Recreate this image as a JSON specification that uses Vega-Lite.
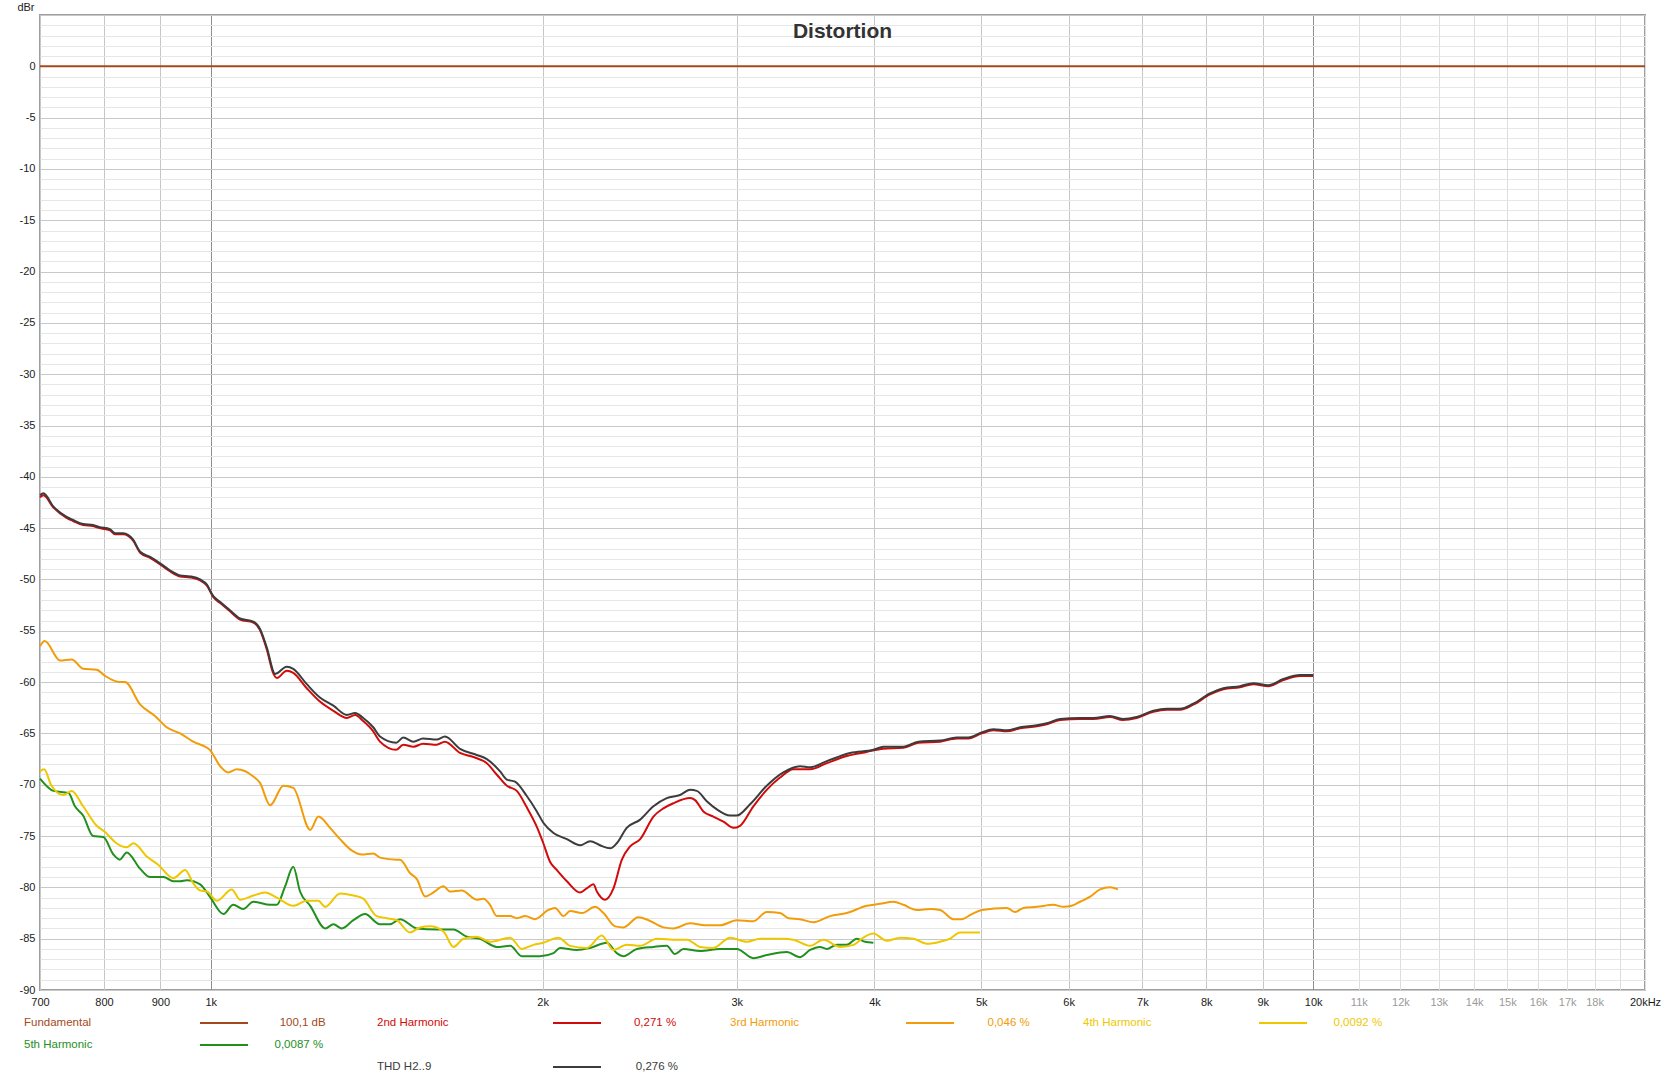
{
  "$schema": "https://vega.github.io/schema/vega-lite/v6.json",
  "autosize": {"type": "none"},
  "padding": {"left": 40, "top": 15, "right": 20, "bottom": 90},
  "width": 1605,
  "height": 975,
  "background": "#ffffff",
  "title": {"text": "Distortion", "fontSize": 21, "fontWeight": "bold", "color": "#333333", "font": "Liberation Sans", "anchor": "middle", "frame": "group", "offset": -41},
  "config": {
    "view": {"stroke": "#9e9e9e", "strokeWidth": 2},
    "font": "Liberation Sans"
  },
  "data": {"values": [
    {"s":"Fundamental","f":700,"db":0},{"s":"Fundamental","f":20000,"db":0},
    {"s":"5th Harmonic","f":700,"db":-69.4},{"s":"5th Harmonic","f":720,"db":-70.6},{"s":"5th Harmonic","f":743,"db":-70.8},{"s":"5th Harmonic","f":753,"db":-72.1},{"s":"5th Harmonic","f":766,"db":-73.0},{"s":"5th Harmonic","f":782,"db":-75.0},{"s":"5th Harmonic","f":799,"db":-75.1},{"s":"5th Harmonic","f":816,"db":-76.8},{"s":"5th Harmonic","f":827,"db":-77.3},{"s":"5th Harmonic","f":839,"db":-76.6},{"s":"5th Harmonic","f":863,"db":-78.2},{"s":"5th Harmonic","f":881,"db":-79.0},{"s":"5th Harmonic","f":906,"db":-79.0},{"s":"5th Harmonic","f":925,"db":-79.4},{"s":"5th Harmonic","f":938,"db":-79.4},{"s":"5th Harmonic","f":951,"db":-79.3},{"s":"5th Harmonic","f":978,"db":-79.7},{"s":"5th Harmonic","f":998,"db":-80.9},{"s":"5th Harmonic","f":1027,"db":-82.6},{"s":"5th Harmonic","f":1048,"db":-81.7},{"s":"5th Harmonic","f":1070,"db":-82.1},{"s":"5th Harmonic","f":1093,"db":-81.4},{"s":"5th Harmonic","f":1132,"db":-81.7},{"s":"5th Harmonic","f":1148,"db":-81.7},{"s":"5th Harmonic","f":1168,"db":-79.9},{"s":"5th Harmonic","f":1188,"db":-78.0},{"s":"5th Harmonic","f":1205,"db":-80.4},{"s":"5th Harmonic","f":1231,"db":-81.8},{"s":"5th Harmonic","f":1270,"db":-84.0},{"s":"5th Harmonic","f":1292,"db":-83.6},{"s":"5th Harmonic","f":1315,"db":-84.0},{"s":"5th Harmonic","f":1347,"db":-83.2},{"s":"5th Harmonic","f":1380,"db":-82.6},{"s":"5th Harmonic","f":1424,"db":-83.6},{"s":"5th Harmonic","f":1454,"db":-83.6},{"s":"5th Harmonic","f":1485,"db":-83.1},{"s":"5th Harmonic","f":1538,"db":-84.0},{"s":"5th Harmonic","f":1603,"db":-84.1},{"s":"5th Harmonic","f":1660,"db":-84.1},{"s":"5th Harmonic","f":1707,"db":-84.8},{"s":"5th Harmonic","f":1755,"db":-85.0},{"s":"5th Harmonic","f":1817,"db":-85.8},{"s":"5th Harmonic","f":1869,"db":-85.7},{"s":"5th Harmonic","f":1915,"db":-86.7},{"s":"5th Harmonic","f":1989,"db":-86.7},{"s":"5th Harmonic","f":2046,"db":-86.4},{"s":"5th Harmonic","f":2074,"db":-85.9},{"s":"5th Harmonic","f":2148,"db":-86.1},{"s":"5th Harmonic","f":2209,"db":-85.9},{"s":"5th Harmonic","f":2287,"db":-85.4},{"s":"5th Harmonic","f":2335,"db":-86.4},{"s":"5th Harmonic","f":2368,"db":-86.7},{"s":"5th Harmonic","f":2435,"db":-86.0},{"s":"5th Harmonic","f":2521,"db":-85.8},{"s":"5th Harmonic","f":2592,"db":-85.7},{"s":"5th Harmonic","f":2637,"db":-86.5},{"s":"5th Harmonic","f":2684,"db":-86.0},{"s":"5th Harmonic","f":2779,"db":-86.2},{"s":"5th Harmonic","f":2898,"db":-86.0},{"s":"5th Harmonic","f":3000,"db":-86.0},{"s":"5th Harmonic","f":3106,"db":-86.9},{"s":"5th Harmonic","f":3194,"db":-86.6},{"s":"5th Harmonic","f":3331,"db":-86.3},{"s":"5th Harmonic","f":3424,"db":-86.8},{"s":"5th Harmonic","f":3497,"db":-86.1},{"s":"5th Harmonic","f":3570,"db":-85.8},{"s":"5th Harmonic","f":3621,"db":-86.0},{"s":"5th Harmonic","f":3697,"db":-85.6},{"s":"5th Harmonic","f":3775,"db":-85.6},{"s":"5th Harmonic","f":3855,"db":-85.0},{"s":"5th Harmonic","f":3922,"db":-85.3},{"s":"5th Harmonic","f":3991,"db":-85.4},
    {"s":"4th Harmonic","f":700,"db":-68.7},{"s":"4th Harmonic","f":706,"db":-68.5},{"s":"4th Harmonic","f":717,"db":-70.1},{"s":"4th Harmonic","f":735,"db":-71.0},{"s":"4th Harmonic","f":748,"db":-70.6},{"s":"4th Harmonic","f":766,"db":-72.1},{"s":"4th Harmonic","f":788,"db":-74.0},{"s":"4th Harmonic","f":802,"db":-74.6},{"s":"4th Harmonic","f":819,"db":-75.6},{"s":"4th Harmonic","f":839,"db":-76.1},{"s":"4th Harmonic","f":851,"db":-75.7},{"s":"4th Harmonic","f":875,"db":-77.0},{"s":"4th Harmonic","f":896,"db":-77.8},{"s":"4th Harmonic","f":925,"db":-79.1},{"s":"4th Harmonic","f":948,"db":-78.3},{"s":"4th Harmonic","f":964,"db":-79.6},{"s":"4th Harmonic","f":978,"db":-80.3},{"s":"4th Harmonic","f":992,"db":-80.4},{"s":"4th Harmonic","f":1013,"db":-81.3},{"s":"4th Harmonic","f":1045,"db":-80.2},{"s":"4th Harmonic","f":1063,"db":-81.2},{"s":"4th Harmonic","f":1093,"db":-80.8},{"s":"4th Harmonic","f":1120,"db":-80.5},{"s":"4th Harmonic","f":1148,"db":-81.0},{"s":"4th Harmonic","f":1188,"db":-81.8},{"s":"4th Harmonic","f":1222,"db":-81.3},{"s":"4th Harmonic","f":1252,"db":-81.3},{"s":"4th Harmonic","f":1270,"db":-81.9},{"s":"4th Harmonic","f":1310,"db":-80.6},{"s":"4th Harmonic","f":1347,"db":-80.8},{"s":"4th Harmonic","f":1375,"db":-81.1},{"s":"4th Harmonic","f":1414,"db":-82.8},{"s":"4th Harmonic","f":1444,"db":-83.0},{"s":"4th Harmonic","f":1475,"db":-83.2},{"s":"4th Harmonic","f":1516,"db":-84.4},{"s":"4th Harmonic","f":1548,"db":-83.9},{"s":"4th Harmonic","f":1581,"db":-83.8},{"s":"4th Harmonic","f":1626,"db":-84.3},{"s":"4th Harmonic","f":1660,"db":-85.8},{"s":"4th Harmonic","f":1695,"db":-85.0},{"s":"4th Harmonic","f":1743,"db":-84.8},{"s":"4th Harmonic","f":1792,"db":-85.3},{"s":"4th Harmonic","f":1869,"db":-84.9},{"s":"4th Harmonic","f":1915,"db":-86.0},{"s":"4th Harmonic","f":1962,"db":-85.6},{"s":"4th Harmonic","f":2003,"db":-85.4},{"s":"4th Harmonic","f":2067,"db":-84.9},{"s":"4th Harmonic","f":2118,"db":-85.7},{"s":"4th Harmonic","f":2193,"db":-85.9},{"s":"4th Harmonic","f":2263,"db":-84.7},{"s":"4th Harmonic","f":2319,"db":-86.1},{"s":"4th Harmonic","f":2384,"db":-85.6},{"s":"4th Harmonic","f":2452,"db":-85.7},{"s":"4th Harmonic","f":2539,"db":-85.0},{"s":"4th Harmonic","f":2647,"db":-85.1},{"s":"4th Harmonic","f":2703,"db":-85.1},{"s":"4th Harmonic","f":2779,"db":-85.8},{"s":"4th Harmonic","f":2857,"db":-85.9},{"s":"4th Harmonic","f":2959,"db":-84.9},{"s":"4th Harmonic","f":3064,"db":-85.3},{"s":"4th Harmonic","f":3150,"db":-85.0},{"s":"4th Harmonic","f":3307,"db":-85.0},{"s":"4th Harmonic","f":3377,"db":-85.1},{"s":"4th Harmonic","f":3497,"db":-85.7},{"s":"4th Harmonic","f":3595,"db":-85.1},{"s":"4th Harmonic","f":3723,"db":-85.8},{"s":"4th Harmonic","f":3828,"db":-85.6},{"s":"4th Harmonic","f":3908,"db":-84.9},{"s":"4th Harmonic","f":3991,"db":-84.5},{"s":"4th Harmonic","f":4104,"db":-85.2},{"s":"4th Harmonic","f":4220,"db":-84.9},{"s":"4th Harmonic","f":4339,"db":-85.0},{"s":"4th Harmonic","f":4462,"db":-85.5},{"s":"4th Harmonic","f":4588,"db":-85.3},{"s":"4th Harmonic","f":4684,"db":-85.0},{"s":"4th Harmonic","f":4783,"db":-84.4},{"s":"4th Harmonic","f":4884,"db":-84.4},{"s":"4th Harmonic","f":4987,"db":-84.4},
    {"s":"3rd Harmonic","f":700,"db":-56.5},{"s":"3rd Harmonic","f":707,"db":-56.0},{"s":"3rd Harmonic","f":730,"db":-57.9},{"s":"3rd Harmonic","f":748,"db":-57.8},{"s":"3rd Harmonic","f":766,"db":-58.7},{"s":"3rd Harmonic","f":788,"db":-58.8},{"s":"3rd Harmonic","f":802,"db":-59.4},{"s":"3rd Harmonic","f":827,"db":-60.0},{"s":"3rd Harmonic","f":836,"db":-60.0},{"s":"3rd Harmonic","f":863,"db":-62.2},{"s":"3rd Harmonic","f":890,"db":-63.3},{"s":"3rd Harmonic","f":912,"db":-64.4},{"s":"3rd Harmonic","f":938,"db":-65.0},{"s":"3rd Harmonic","f":964,"db":-65.8},{"s":"3rd Harmonic","f":998,"db":-66.6},{"s":"3rd Harmonic","f":1020,"db":-68.2},{"s":"3rd Harmonic","f":1037,"db":-68.8},{"s":"3rd Harmonic","f":1056,"db":-68.5},{"s":"3rd Harmonic","f":1093,"db":-69.2},{"s":"3rd Harmonic","f":1108,"db":-69.8},{"s":"3rd Harmonic","f":1132,"db":-72.0},{"s":"3rd Harmonic","f":1164,"db":-70.1},{"s":"3rd Harmonic","f":1188,"db":-70.3},{"s":"3rd Harmonic","f":1231,"db":-74.4},{"s":"3rd Harmonic","f":1252,"db":-73.1},{"s":"3rd Harmonic","f":1283,"db":-74.2},{"s":"3rd Harmonic","f":1310,"db":-75.3},{"s":"3rd Harmonic","f":1342,"db":-76.4},{"s":"3rd Harmonic","f":1371,"db":-76.8},{"s":"3rd Harmonic","f":1404,"db":-76.7},{"s":"3rd Harmonic","f":1424,"db":-77.1},{"s":"3rd Harmonic","f":1475,"db":-77.3},{"s":"3rd Harmonic","f":1485,"db":-77.3},{"s":"3rd Harmonic","f":1516,"db":-78.6},{"s":"3rd Harmonic","f":1538,"db":-79.2},{"s":"3rd Harmonic","f":1565,"db":-80.9},{"s":"3rd Harmonic","f":1592,"db":-80.5},{"s":"3rd Harmonic","f":1626,"db":-79.9},{"s":"3rd Harmonic","f":1648,"db":-80.4},{"s":"3rd Harmonic","f":1689,"db":-80.3},{"s":"3rd Harmonic","f":1743,"db":-81.2},{"s":"3rd Harmonic","f":1767,"db":-81.1},{"s":"3rd Harmonic","f":1792,"db":-81.7},{"s":"3rd Harmonic","f":1817,"db":-82.8},{"s":"3rd Harmonic","f":1869,"db":-82.8},{"s":"3rd Harmonic","f":1895,"db":-83.0},{"s":"3rd Harmonic","f":1928,"db":-82.8},{"s":"3rd Harmonic","f":1969,"db":-83.1},{"s":"3rd Harmonic","f":2024,"db":-82.2},{"s":"3rd Harmonic","f":2053,"db":-82.0},{"s":"3rd Harmonic","f":2089,"db":-82.8},{"s":"3rd Harmonic","f":2118,"db":-82.3},{"s":"3rd Harmonic","f":2171,"db":-82.5},{"s":"3rd Harmonic","f":2232,"db":-81.9},{"s":"3rd Harmonic","f":2271,"db":-82.5},{"s":"3rd Harmonic","f":2327,"db":-83.8},{"s":"3rd Harmonic","f":2368,"db":-83.9},{"s":"3rd Harmonic","f":2443,"db":-82.9},{"s":"3rd Harmonic","f":2495,"db":-83.2},{"s":"3rd Harmonic","f":2574,"db":-83.9},{"s":"3rd Harmonic","f":2628,"db":-84.0},{"s":"3rd Harmonic","f":2721,"db":-83.5},{"s":"3rd Harmonic","f":2808,"db":-83.7},{"s":"3rd Harmonic","f":2898,"db":-83.7},{"s":"3rd Harmonic","f":3000,"db":-83.2},{"s":"3rd Harmonic","f":3106,"db":-83.3},{"s":"3rd Harmonic","f":3194,"db":-82.4},{"s":"3rd Harmonic","f":3284,"db":-82.5},{"s":"3rd Harmonic","f":3342,"db":-83.0},{"s":"3rd Harmonic","f":3424,"db":-83.1},{"s":"3rd Harmonic","f":3521,"db":-83.4},{"s":"3rd Harmonic","f":3646,"db":-82.8},{"s":"3rd Harmonic","f":3775,"db":-82.5},{"s":"3rd Harmonic","f":3936,"db":-81.8},{"s":"3rd Harmonic","f":4047,"db":-81.6},{"s":"3rd Harmonic","f":4161,"db":-81.4},{"s":"3rd Harmonic","f":4249,"db":-81.7},{"s":"3rd Harmonic","f":4370,"db":-82.2},{"s":"3rd Harmonic","f":4493,"db":-82.1},{"s":"3rd Harmonic","f":4588,"db":-82.2},{"s":"3rd Harmonic","f":4717,"db":-83.1},{"s":"3rd Harmonic","f":4800,"db":-83.1},{"s":"3rd Harmonic","f":4902,"db":-82.6},{"s":"3rd Harmonic","f":5005,"db":-82.2},{"s":"3rd Harmonic","f":5274,"db":-82.0},{"s":"3rd Harmonic","f":5366,"db":-82.4},{"s":"3rd Harmonic","f":5460,"db":-82.0},{"s":"3rd Harmonic","f":5615,"db":-81.9},{"s":"3rd Harmonic","f":5813,"db":-81.7},{"s":"3rd Harmonic","f":5935,"db":-81.9},{"s":"3rd Harmonic","f":6040,"db":-81.8},{"s":"3rd Harmonic","f":6146,"db":-81.4},{"s":"3rd Harmonic","f":6276,"db":-80.9},{"s":"3rd Harmonic","f":6408,"db":-80.2},{"s":"3rd Harmonic","f":6543,"db":-80.0},{"s":"3rd Harmonic","f":6651,"db":-80.2},
    {"s":"2nd Harmonic","f":700,"db":-42.0},{"s":"2nd Harmonic","f":705,"db":-41.8},{"s":"2nd Harmonic","f":720,"db":-43.0},{"s":"2nd Harmonic","f":740,"db":-44.0},{"s":"2nd Harmonic","f":750,"db":-44.3},{"s":"2nd Harmonic","f":766,"db":-44.7},{"s":"2nd Harmonic","f":782,"db":-44.8},{"s":"2nd Harmonic","f":793,"db":-45.0},{"s":"2nd Harmonic","f":810,"db":-45.2},{"s":"2nd Harmonic","f":819,"db":-45.6},{"s":"2nd Harmonic","f":833,"db":-45.6},{"s":"2nd Harmonic","f":850,"db":-46.2},{"s":"2nd Harmonic","f":863,"db":-47.4},{"s":"2nd Harmonic","f":881,"db":-47.9},{"s":"2nd Harmonic","f":899,"db":-48.5},{"s":"2nd Harmonic","f":918,"db":-49.2},{"s":"2nd Harmonic","f":938,"db":-49.7},{"s":"2nd Harmonic","f":958,"db":-49.8},{"s":"2nd Harmonic","f":978,"db":-50.1},{"s":"2nd Harmonic","f":992,"db":-50.6},{"s":"2nd Harmonic","f":1005,"db":-51.7},{"s":"2nd Harmonic","f":1020,"db":-52.3},{"s":"2nd Harmonic","f":1041,"db":-53.1},{"s":"2nd Harmonic","f":1063,"db":-53.9},{"s":"2nd Harmonic","f":1093,"db":-54.2},{"s":"2nd Harmonic","f":1108,"db":-54.9},{"s":"2nd Harmonic","f":1124,"db":-56.8},{"s":"2nd Harmonic","f":1140,"db":-59.2},{"s":"2nd Harmonic","f":1148,"db":-59.6},{"s":"2nd Harmonic","f":1172,"db":-58.9},{"s":"2nd Harmonic","f":1188,"db":-59.1},{"s":"2nd Harmonic","f":1222,"db":-60.6},{"s":"2nd Harmonic","f":1256,"db":-61.9},{"s":"2nd Harmonic","f":1292,"db":-62.8},{"s":"2nd Harmonic","f":1329,"db":-63.5},{"s":"2nd Harmonic","f":1352,"db":-63.2},{"s":"2nd Harmonic","f":1375,"db":-63.8},{"s":"2nd Harmonic","f":1404,"db":-64.8},{"s":"2nd Harmonic","f":1424,"db":-65.8},{"s":"2nd Harmonic","f":1473,"db":-66.6},{"s":"2nd Harmonic","f":1495,"db":-66.1},{"s":"2nd Harmonic","f":1527,"db":-66.3},{"s":"2nd Harmonic","f":1558,"db":-66.0},{"s":"2nd Harmonic","f":1603,"db":-66.1},{"s":"2nd Harmonic","f":1631,"db":-65.8},{"s":"2nd Harmonic","f":1683,"db":-66.9},{"s":"2nd Harmonic","f":1731,"db":-67.3},{"s":"2nd Harmonic","f":1780,"db":-67.9},{"s":"2nd Harmonic","f":1817,"db":-69.0},{"s":"2nd Harmonic","f":1856,"db":-70.1},{"s":"2nd Harmonic","f":1895,"db":-70.6},{"s":"2nd Harmonic","f":1935,"db":-72.2},{"s":"2nd Harmonic","f":1976,"db":-74.1},{"s":"2nd Harmonic","f":2003,"db":-75.7},{"s":"2nd Harmonic","f":2031,"db":-77.5},{"s":"2nd Harmonic","f":2060,"db":-78.3},{"s":"2nd Harmonic","f":2104,"db":-79.4},{"s":"2nd Harmonic","f":2163,"db":-80.5},{"s":"2nd Harmonic","f":2193,"db":-80.1},{"s":"2nd Harmonic","f":2224,"db":-79.7},{"s":"2nd Harmonic","f":2240,"db":-80.4},{"s":"2nd Harmonic","f":2279,"db":-81.2},{"s":"2nd Harmonic","f":2319,"db":-80.1},{"s":"2nd Harmonic","f":2360,"db":-77.3},{"s":"2nd Harmonic","f":2401,"db":-76.0},{"s":"2nd Harmonic","f":2452,"db":-75.3},{"s":"2nd Harmonic","f":2521,"db":-73.1},{"s":"2nd Harmonic","f":2574,"db":-72.3},{"s":"2nd Harmonic","f":2628,"db":-71.8},{"s":"2nd Harmonic","f":2721,"db":-71.3},{"s":"2nd Harmonic","f":2750,"db":-71.5},{"s":"2nd Harmonic","f":2798,"db":-72.6},{"s":"2nd Harmonic","f":2857,"db":-73.1},{"s":"2nd Harmonic","f":2918,"db":-73.6},{"s":"2nd Harmonic","f":2979,"db":-74.2},{"s":"2nd Harmonic","f":3021,"db":-74.0},{"s":"2nd Harmonic","f":3106,"db":-72.1},{"s":"2nd Harmonic","f":3194,"db":-70.5},{"s":"2nd Harmonic","f":3284,"db":-69.3},{"s":"2nd Harmonic","f":3377,"db":-68.5},{"s":"2nd Harmonic","f":3497,"db":-68.5},{"s":"2nd Harmonic","f":3621,"db":-67.9},{"s":"2nd Harmonic","f":3775,"db":-67.2},{"s":"2nd Harmonic","f":3936,"db":-66.8},{"s":"2nd Harmonic","f":4075,"db":-66.5},{"s":"2nd Harmonic","f":4249,"db":-66.4},{"s":"2nd Harmonic","f":4384,"db":-65.9},{"s":"2nd Harmonic","f":4588,"db":-65.8},{"s":"2nd Harmonic","f":4750,"db":-65.5},{"s":"2nd Harmonic","f":4867,"db":-65.5},{"s":"2nd Harmonic","f":5005,"db":-65.0},{"s":"2nd Harmonic","f":5128,"db":-64.7},{"s":"2nd Harmonic","f":5274,"db":-64.8},{"s":"2nd Harmonic","f":5422,"db":-64.5},{"s":"2nd Harmonic","f":5615,"db":-64.3},{"s":"2nd Harmonic","f":5733,"db":-64.1},{"s":"2nd Harmonic","f":5894,"db":-63.7},{"s":"2nd Harmonic","f":6146,"db":-63.6},{"s":"2nd Harmonic","f":6319,"db":-63.6},{"s":"2nd Harmonic","f":6543,"db":-63.4},{"s":"2nd Harmonic","f":6720,"db":-63.7},{"s":"2nd Harmonic","f":6917,"db":-63.5},{"s":"2nd Harmonic","f":7161,"db":-62.9},{"s":"2nd Harmonic","f":7365,"db":-62.7},{"s":"2nd Harmonic","f":7572,"db":-62.7},{"s":"2nd Harmonic","f":7786,"db":-62.2},{"s":"2nd Harmonic","f":8062,"db":-61.2},{"s":"2nd Harmonic","f":8289,"db":-60.7},{"s":"2nd Harmonic","f":8583,"db":-60.5},{"s":"2nd Harmonic","f":8825,"db":-60.2},{"s":"2nd Harmonic","f":9106,"db":-60.4},{"s":"2nd Harmonic","f":9396,"db":-59.8},{"s":"2nd Harmonic","f":9730,"db":-59.4},{"s":"2nd Harmonic","f":10000,"db":-59.4},
    {"s":"THD","f":700,"db":-41.8},{"s":"THD","f":705,"db":-41.6},{"s":"THD","f":720,"db":-42.9},{"s":"THD","f":740,"db":-43.9},{"s":"THD","f":750,"db":-44.2},{"s":"THD","f":766,"db":-44.6},{"s":"THD","f":782,"db":-44.7},{"s":"THD","f":793,"db":-44.9},{"s":"THD","f":810,"db":-45.1},{"s":"THD","f":819,"db":-45.5},{"s":"THD","f":833,"db":-45.5},{"s":"THD","f":850,"db":-46.1},{"s":"THD","f":863,"db":-47.3},{"s":"THD","f":881,"db":-47.8},{"s":"THD","f":899,"db":-48.4},{"s":"THD","f":918,"db":-49.1},{"s":"THD","f":938,"db":-49.6},{"s":"THD","f":958,"db":-49.7},{"s":"THD","f":978,"db":-50.0},{"s":"THD","f":992,"db":-50.5},{"s":"THD","f":1005,"db":-51.6},{"s":"THD","f":1020,"db":-52.2},{"s":"THD","f":1041,"db":-53.0},{"s":"THD","f":1063,"db":-53.8},{"s":"THD","f":1093,"db":-54.1},{"s":"THD","f":1108,"db":-54.8},{"s":"THD","f":1124,"db":-56.6},{"s":"THD","f":1144,"db":-59.2},{"s":"THD","f":1172,"db":-58.5},{"s":"THD","f":1188,"db":-58.7},{"s":"THD","f":1222,"db":-60.2},{"s":"THD","f":1256,"db":-61.5},{"s":"THD","f":1292,"db":-62.3},{"s":"THD","f":1329,"db":-63.2},{"s":"THD","f":1352,"db":-63.0},{"s":"THD","f":1375,"db":-63.5},{"s":"THD","f":1404,"db":-64.4},{"s":"THD","f":1424,"db":-65.3},{"s":"THD","f":1473,"db":-65.9},{"s":"THD","f":1495,"db":-65.4},{"s":"THD","f":1527,"db":-65.8},{"s":"THD","f":1558,"db":-65.5},{"s":"THD","f":1603,"db":-65.6},{"s":"THD","f":1631,"db":-65.3},{"s":"THD","f":1683,"db":-66.5},{"s":"THD","f":1743,"db":-67.1},{"s":"THD","f":1780,"db":-67.5},{"s":"THD","f":1830,"db":-68.7},{"s":"THD","f":1856,"db":-69.5},{"s":"THD","f":1888,"db":-69.7},{"s":"THD","f":1935,"db":-71.1},{"s":"THD","f":1976,"db":-72.6},{"s":"THD","f":2003,"db":-73.7},{"s":"THD","f":2046,"db":-74.7},{"s":"THD","f":2104,"db":-75.3},{"s":"THD","f":2163,"db":-75.9},{"s":"THD","f":2209,"db":-75.5},{"s":"THD","f":2255,"db":-75.9},{"s":"THD","f":2303,"db":-76.2},{"s":"THD","f":2335,"db":-75.7},{"s":"THD","f":2384,"db":-74.2},{"s":"THD","f":2452,"db":-73.4},{"s":"THD","f":2521,"db":-72.1},{"s":"THD","f":2592,"db":-71.3},{"s":"THD","f":2665,"db":-71.0},{"s":"THD","f":2721,"db":-70.5},{"s":"THD","f":2760,"db":-70.6},{"s":"THD","f":2818,"db":-71.6},{"s":"THD","f":2878,"db":-72.4},{"s":"THD","f":2959,"db":-73.0},{"s":"THD","f":3000,"db":-73.0},{"s":"THD","f":3085,"db":-71.9},{"s":"THD","f":3194,"db":-70.1},{"s":"THD","f":3307,"db":-68.8},{"s":"THD","f":3424,"db":-68.2},{"s":"THD","f":3497,"db":-68.3},{"s":"THD","f":3621,"db":-67.7},{"s":"THD","f":3801,"db":-66.9},{"s":"THD","f":3991,"db":-66.6},{"s":"THD","f":4075,"db":-66.3},{"s":"THD","f":4249,"db":-66.3},{"s":"THD","f":4384,"db":-65.8},{"s":"THD","f":4588,"db":-65.7},{"s":"THD","f":4750,"db":-65.4},{"s":"THD","f":4867,"db":-65.4},{"s":"THD","f":5005,"db":-64.9},{"s":"THD","f":5128,"db":-64.6},{"s":"THD","f":5274,"db":-64.7},{"s":"THD","f":5422,"db":-64.4},{"s":"THD","f":5615,"db":-64.2},{"s":"THD","f":5733,"db":-64.0},{"s":"THD","f":5894,"db":-63.6},{"s":"THD","f":6146,"db":-63.5},{"s":"THD","f":6319,"db":-63.5},{"s":"THD","f":6543,"db":-63.3},{"s":"THD","f":6720,"db":-63.6},{"s":"THD","f":6917,"db":-63.4},{"s":"THD","f":7161,"db":-62.8},{"s":"THD","f":7365,"db":-62.6},{"s":"THD","f":7572,"db":-62.6},{"s":"THD","f":7786,"db":-62.1},{"s":"THD","f":8062,"db":-61.1},{"s":"THD","f":8289,"db":-60.6},{"s":"THD","f":8583,"db":-60.4},{"s":"THD","f":8825,"db":-60.1},{"s":"THD","f":9106,"db":-60.3},{"s":"THD","f":9396,"db":-59.7},{"s":"THD","f":9730,"db":-59.3},{"s":"THD","f":10000,"db":-59.3}
  ]},
  "mark": {"type": "line", "strokeWidth": 2, "interpolate": "monotone"},
  "encoding": {
    "x": {
      "field": "f", "type": "quantitative",
      "scale": {"type": "log", "domain": [700, 20000], "nice": false},
      "axis": {
        "title": null,
        "values": [700,800,900,1000,2000,3000,4000,5000,6000,7000,8000,9000,10000,11000,12000,13000,14000,15000,16000,17000,18000,19000,20000],
        "labelExpr": "datum.value == 19000 ? '' : datum.value == 20000 ? '20kHz' : datum.value >= 1000 ? (datum.value / 1000) + 'k' : '' + datum.value",
        "labelFlush": false, "labelOverlap": false, "labelBound": false,
        "ticks": false, "domain": false, "labelPadding": 6, "labelFontSize": 11, "labelFont": "Liberation Sans",
        "labelColor": {"condition": {"test": "datum.value > 10000 && datum.value < 20000", "value": "#9a9a9a"}, "value": "#1a1a1a"},
        "gridColor": {"condition": [{"test": "datum.value == 1000 || datum.value == 10000", "value": "#8e8e8e"}, {"test": "datum.value > 10000", "value": "#dedede"}], "value": "#c6c6c6"},
        "gridWidth": 1
      }
    },
    "y": {
      "field": "db", "type": "quantitative",
      "scale": {"domain": [-90, 5], "nice": false, "zero": false},
      "axis": {
        "title": "dBr", "titleAngle": 0, "titleAlign": "right", "titleBaseline": "middle", "titleX": -6, "titleY": -8,
        "titleFontWeight": "normal", "titleFontSize": 11, "titleColor": "#222222", "titleFont": "Liberation Sans",
        "values": [-90,-89,-88,-87,-86,-85,-84,-83,-82,-81,-80,-79,-78,-77,-76,-75,-74,-73,-72,-71,-70,-69,-68,-67,-66,-65,-64,-63,-62,-61,-60,-59,-58,-57,-56,-55,-54,-53,-52,-51,-50,-49,-48,-47,-46,-45,-44,-43,-42,-41,-40,-39,-38,-37,-36,-35,-34,-33,-32,-31,-30,-29,-28,-27,-26,-25,-24,-23,-22,-21,-20,-19,-18,-17,-16,-15,-14,-13,-12,-11,-10,-9,-8,-7,-6,-5,-4,-3,-2,-1,0,1,2,3,4,5],
        "labelExpr": "datum.value % 5 == 0 && datum.value < 5 ? '' + datum.value : ''",
        "labelOverlap": false, "labelFlush": false,
        "ticks": false, "domain": false, "labelPadding": 5, "labelFontSize": 11, "labelColor": "#222222", "labelFont": "Liberation Sans",
        "gridColor": {"condition": {"test": "datum.value % 5 == 0", "value": "#c8c8c8"}, "value": "#e6e6e6"},
        "gridWidth": 1
      }
    },
    "color": {
      "field": "s", "type": "nominal",
      "scale": {
        "domain": ["Fundamental", "2nd Harmonic", "3rd Harmonic", "4th Harmonic", "5th Harmonic", "_gap1", "_gap2", "_gap3", "_gap4", "THD"],
        "range": ["#a34a1c", "#d10a0a", "#f29c0a", "#eec700", "#22901e", "rgba(0,0,0,0)", "rgba(0,0,0,0)", "rgba(0,0,0,0)", "rgba(0,0,0,0)", "#3c3c3c"]
      },
      "legend": {
        "title": null, "orient": "none", "legendX": -16, "legendY": 1001, "direction": "horizontal",
        "columns": 4, "columnPadding": 51, "rowPadding": 8, "padding": 0, "gridAlign": "all",
        "symbolType": "stroke", "symbolSize": 2304, "symbolStrokeWidth": 2, "symbolOffset": 175, "labelOffset": -225, "clipHeight": 14,
        "labelFontSize": 11.5, "labelFont": "Liberation Sans", "labelLimit": 500,
        "labelColor": {"expr": "scale('color', datum.value)"},
        "labelExpr": "datum.label == 'Fundamental' ? pad('Fundamental', 70, '\u00a0') + '100,1 dB' : datum.label == '2nd Harmonic' ? pad('2nd Harmonic', 70, '\u00a0') + '0,271 %' : datum.label == '3rd Harmonic' ? pad('3rd Harmonic', 71, '\u00a0') + '0,046 %' : datum.label == '4th Harmonic' ? pad('4th Harmonic', 69, '\u00a0') + '0,0092 %' : datum.label == '5th Harmonic' ? pad('5th Harmonic', 69, '\u00a0') + '0,0087 %' : datum.label == 'THD' ? pad('THD H2..9', 73, '\u00a0') + '0,276 %' : ''"
      }
    }
  }
}
